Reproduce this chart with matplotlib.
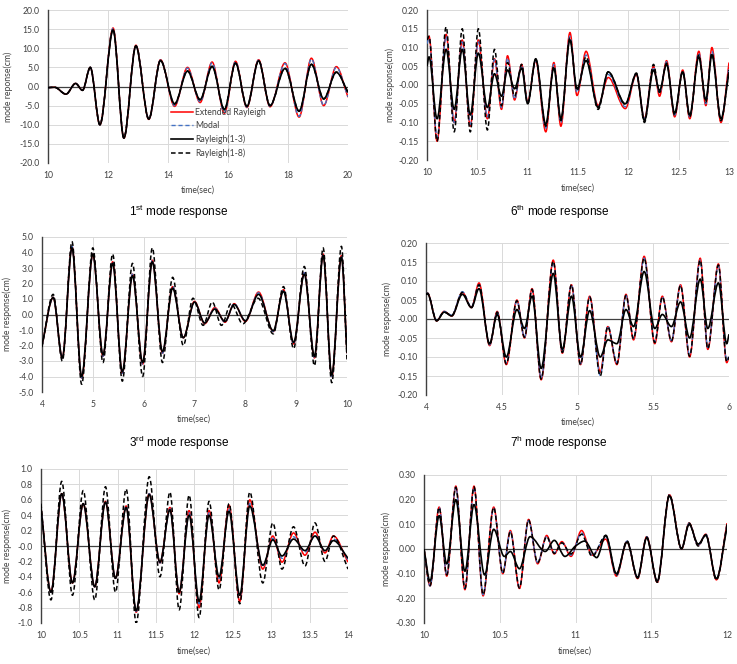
import numpy as np
import matplotlib
matplotlib.use("Agg")
import matplotlib.pyplot as plt
from matplotlib.path import Path
from matplotlib.patches import PathPatch
from matplotlib.lines import Line2D
from matplotlib.ticker import FormatStrFormatter, FuncFormatter

plt.rcParams['font.family'] = ['Lato', 'DejaVu Sans']
plt.rcParams['mathtext.fontset'] = 'custom'
plt.rcParams['mathtext.rm'] = 'Liberation Sans'

# ---------------- data (extrema) ----------------
series_names = ["Extended Rayleigh", "Modal", "Rayleigh(1-3)", "Rayleigh(1-8)"]

# 1st mode response
p1_t = [10.0, 10.22, 10.6, 10.92, 11.15, 11.41, 11.73, 12.17, 12.53, 12.93, 13.36, 13.75, 14.22, 14.65,
        15.07, 15.47, 15.88, 16.25, 16.63, 17.02, 17.4, 17.9, 18.37, 18.78, 19.19, 19.61, 20.0]
p1_ext = [-0.3, -0.2, -2.0, 0.8, -1.0, 5.0, -10.0, 15.3, -13.5, 10.8, -8.6, 7.0, -5.2, 5.0,
          -4.2, 6.4, -7.0, 6.6, -5.5, 7.0, -5.3, 6.2, -8.0, 7.4, -5.0, 5.2, -2.8]
p1_modal = [-0.3, -0.2, -2.0, 0.8, -1.0, 5.0, -10.0, 15.2, -13.4, 10.7, -8.5, 6.9, -5.0, 4.8,
            -4.0, 6.2, -6.8, 6.5, -5.4, 6.9, -5.2, 6.0, -7.8, 7.2, -4.9, 5.0, -2.7]
p1_r13 = [-0.3, -0.2, -2.0, 0.8, -1.0, 5.0, -10.0, 14.8, -13.5, 10.6, -8.5, 6.8, -4.5, 4.0,
          -3.4, 5.2, -6.0, 6.1, -5.2, 6.7, -5.0, 4.7, -6.4, 5.8, -3.2, 3.7, -1.5]
p1_r18 = [-0.3, -0.2, -2.0, 0.8, -1.0, 5.0, -10.0, 14.9, -13.4, 10.6, -8.5, 6.8, -4.6, 4.1,
          -3.5, 5.3, -6.0, 6.1, -5.2, 6.7, -5.0, 4.8, -6.5, 5.8, -3.3, 3.8, -1.6]

# 6th mode response
p2_t = [10.0, 10.02, 10.1, 10.19, 10.27, 10.35, 10.43, 10.51, 10.6, 10.67, 10.74, 10.8, 10.87, 10.94,
        11.0, 11.08, 11.18, 11.26, 11.33, 11.42, 11.49, 11.58, 11.7, 11.8, 11.97, 12.08, 12.16, 12.25,
        12.31, 12.38, 12.46, 12.54, 12.61, 12.7, 12.77, 12.83, 12.92, 13.0]
p2_ext = [0.11, 0.13, -0.15, 0.135, -0.10, 0.12, -0.11, 0.12, -0.09, 0.07, -0.065, 0.078, -0.04, 0.055,
          -0.045, 0.065, -0.125, 0.06, -0.11, 0.14, -0.028, 0.09, -0.055, 0.02, -0.063, 0.028, -0.09, 0.05,
          -0.03, 0.065, -0.085, 0.04, -0.09, 0.09, -0.055, 0.10, -0.10, 0.06]
p2_modal = [0.11, 0.125, -0.14, 0.13, -0.10, 0.115, -0.105, 0.115, -0.085, 0.068, -0.06, 0.072, -0.038, 0.052,
            -0.045, 0.065, -0.115, 0.055, -0.10, 0.13, -0.02, 0.08, -0.058, 0.028, -0.058, 0.03, -0.09, 0.048,
            -0.022, 0.062, -0.08, 0.038, -0.085, 0.085, -0.05, 0.09, -0.095, 0.05]
p2_r13 = [0.05, 0.075, -0.09, 0.095, -0.065, 0.095, -0.08, 0.085, -0.06, 0.03, -0.03, 0.04, -0.01, 0.045,
          -0.05, 0.07, -0.105, 0.045, -0.09, 0.12, -0.01, 0.065, -0.06, 0.035, -0.05, 0.03, -0.095, 0.04,
          -0.015, 0.055, -0.075, 0.035, -0.08, 0.075, -0.04, 0.08, -0.09, 0.035]
p2_r18 = [0.12, 0.13, -0.15, 0.155, -0.125, 0.15, -0.125, 0.15, -0.12, 0.095, -0.055, 0.06, -0.03, 0.055,
          -0.05, 0.068, -0.11, 0.05, -0.095, 0.125, -0.015, 0.075, -0.065, 0.035, -0.052, 0.032, -0.10, 0.055,
          -0.02, 0.058, -0.08, 0.035, -0.085, 0.08, -0.045, 0.085, -0.095, 0.04]

# 3rd mode response
p3_t = [4.0, 4.22, 4.4, 4.59, 4.78, 5.0, 5.2, 5.39, 5.58, 5.78, 5.98, 6.17, 6.37, 6.57, 6.78, 7.0,
        7.2, 7.4, 7.6, 7.78, 8.0, 8.26, 8.55, 8.75, 8.95, 9.16, 9.36, 9.53, 9.7, 9.89, 10.0]
p3_ext = [-2.0, 1.1, -2.8, 4.4, -4.1, 3.9, -2.7, 3.4, -3.8, 2.6, -3.2, 3.5, -2.5, 1.8, -1.5, 0.85,
          -0.6, 0.45, -0.5, 0.7, -0.45, 1.45, -1.1, 1.6, -1.9, 2.7, -2.8, 3.9, -4.0, 3.8, -2.5]
p3_modal = [-2.0, 1.1, -2.8, 4.4, -4.1, 3.9, -2.7, 3.4, -3.8, 2.6, -3.2, 3.5, -2.5, 1.8, -1.5, 0.8,
            -0.55, 0.4, -0.5, 0.7, -0.4, 1.4, -1.1, 1.6, -1.9, 2.7, -2.8, 3.9, -4.0, 3.8, -2.5]
p3_r13 = [-2.0, 1.1, -2.8, 4.3, -4.0, 3.9, -2.6, 3.3, -3.7, 2.5, -3.1, 3.4, -2.4, 1.7, -1.5, 0.8,
          -0.55, 0.35, -0.45, 0.65, -0.4, 1.3, -1.05, 1.5, -1.8, 2.6, -2.7, 3.8, -3.9, 3.7, -2.5]
p3_t18 = [4.0, 4.22, 4.4, 4.59, 4.78, 5.0, 5.2, 5.39, 5.58, 5.78, 5.98, 6.17, 6.37, 6.57, 6.78, 6.97,
          7.17, 7.35, 7.53, 7.72, 7.95, 8.25, 8.55, 8.75, 8.95, 9.16, 9.36, 9.53, 9.7, 9.89, 10.0]
p3_r18 = [-2.1, 1.3, -3.0, 4.7, -4.5, 4.3, -3.1, 3.9, -4.3, 3.3, -4.0, 4.3, -3.1, 2.4, -2.0, 1.05,
          -0.7, 0.8, -0.7, 0.7, -0.6, 1.05, -1.25, 1.8, -2.2, 3.1, -3.3, 4.3, -4.4, 4.4, -3.0]

# 7th mode response
p4_t = [4.0, 4.01, 4.07, 4.12, 4.17, 4.24, 4.3, 4.35, 4.42, 4.47, 4.53, 4.6, 4.65, 4.7, 4.76, 4.84,
        4.9, 4.96, 5.02, 5.08, 5.15, 5.2, 5.26, 5.32, 5.37, 5.44, 5.51, 5.56, 5.62, 5.68, 5.74, 5.81,
        5.86, 5.93, 5.985, 6.0]
p4_ext = [0.065, 0.068, -0.005, 0.02, 0.008, 0.07, 0.03, 0.095, -0.07, 0.02, -0.12, 0.05, -0.05, 0.08,
          -0.16, 0.155, -0.09, 0.09, -0.12, 0.06, -0.14, -0.02, -0.12, 0.065, -0.055, 0.165, -0.065, 0.06,
          -0.06, 0.09, -0.10, 0.16, -0.08, 0.145, -0.115, -0.10]
p4_modal = [0.065, 0.068, -0.003, 0.02, 0.01, 0.072, 0.032, 0.09, -0.068, 0.018, -0.115, 0.048, -0.048, 0.078,
            -0.155, 0.15, -0.088, 0.09, -0.118, 0.058, -0.148, -0.018, -0.115, 0.062, -0.05, 0.16, -0.06, 0.058,
            -0.057, 0.088, -0.095, 0.155, -0.075, 0.14, -0.11, -0.095]
p4_r13 = [0.065, 0.066, -0.005, 0.018, 0.008, 0.065, 0.03, 0.08, -0.065, 0.012, -0.10, 0.025, -0.025, 0.06,
          -0.13, 0.12, -0.08, 0.06, -0.10, 0.022, -0.10, -0.055, -0.065, 0.025, -0.02, 0.125, -0.025, 0.012,
          -0.02, 0.045, -0.05, 0.105, -0.025, 0.095, -0.065, -0.04]
p4_r18 = [0.065, 0.068, -0.004, 0.018, 0.01, 0.07, 0.03, 0.09, -0.068, 0.018, -0.118, 0.048, -0.048, 0.078,
          -0.158, 0.152, -0.088, 0.09, -0.12, 0.058, -0.15, -0.02, -0.118, 0.062, -0.052, 0.16, -0.062, 0.058,
          -0.058, 0.088, -0.098, 0.155, -0.078, 0.142, -0.112, -0.10]

# bottom-left panel
p5_t = [10.0, 10.13, 10.27, 10.41, 10.55, 10.7, 10.84, 10.97, 11.11, 11.24, 11.41, 11.55, 11.68, 11.8,
        11.93, 12.06, 12.19, 12.32, 12.45, 12.59, 12.72, 12.89, 13.02, 13.14, 13.29, 13.44, 13.57, 13.7,
        13.81, 14.0]
p5_ext = [0.5, -0.6, 0.68, -0.48, 0.55, -0.53, 0.58, -0.42, 0.52, -0.86, 0.68, -0.22, 0.5, -0.62,
          0.46, -0.8, 0.46, -0.48, 0.53, -0.72, 0.6, -0.3, 0.13, -0.21, 0.17, -0.12, 0.18, -0.09,
          0.13, -0.21]
p5_modal = [0.5, -0.6, 0.68, -0.48, 0.55, -0.53, 0.58, -0.42, 0.52, -0.85, 0.68, -0.22, 0.48, -0.6,
            0.43, -0.75, 0.43, -0.42, 0.47, -0.66, 0.55, -0.27, 0.1, -0.16, 0.12, -0.08, 0.14, -0.07,
            0.09, -0.18]
p5_r13 = [0.5, -0.6, 0.68, -0.48, 0.55, -0.53, 0.57, -0.42, 0.5, -0.84, 0.67, -0.21, 0.47, -0.6,
          0.4, -0.72, 0.4, -0.4, 0.45, -0.64, 0.52, -0.25, 0.08, -0.13, 0.09, -0.06, 0.13, -0.06,
          0.07, -0.16]
p5_r18 = [0.55, -0.7, 0.84, -0.64, 0.72, -0.7, 0.77, -0.6, 0.74, -1.0, 0.9, -0.4, 0.7, -0.83,
          0.66, -0.93, 0.58, -0.57, 0.55, -0.75, 0.7, -0.48, 0.3, -0.3, 0.25, -0.26, 0.3, -0.2,
          0.13, -0.3]

# bottom-right panel
p6_t = [10.0, 10.04, 10.1, 10.15, 10.21, 10.27, 10.33, 10.39, 10.46, 10.52, 10.57, 10.63, 10.69, 10.75,
        10.81, 10.86, 10.91, 10.97, 11.04, 11.11, 11.2, 11.27, 11.34, 11.41, 11.47, 11.54, 11.62, 11.7,
        11.75, 11.81, 11.86, 11.93, 12.0]
p6_ext = [0.0, -0.15, 0.17, -0.11, 0.255, -0.165, 0.255, -0.19, 0.17, -0.1, 0.075, -0.16, 0.12, -0.06,
          0.055, -0.02, 0.03, -0.03, 0.075, -0.025, 0.04, -0.11, 0.03, -0.12, 0.05, -0.135, 0.22, 0.0,
          0.105, 0.015, 0.06, -0.125, 0.105]
p6_modal = [0.0, -0.15, 0.17, -0.105, 0.25, -0.16, 0.25, -0.185, 0.165, -0.095, 0.07, -0.155, 0.115, -0.055,
            0.05, -0.015, 0.025, -0.025, 0.065, -0.025, 0.05, -0.108, 0.032, -0.118, 0.05, -0.133, 0.218, 0.0,
            0.104, 0.015, 0.06, -0.122, 0.1]
p6_r18 = [0.0, -0.148, 0.168, -0.105, 0.25, -0.16, 0.252, -0.185, 0.168, -0.098, 0.07, -0.158, 0.118, -0.055,
          0.05, -0.018, 0.025, -0.02, 0.06, -0.03, 0.055, -0.105, 0.033, -0.118, 0.048, -0.135, 0.22, 0.0,
          0.105, 0.012, 0.058, -0.125, 0.1]
p6_t13 = [10.0, 10.04, 10.1, 10.15, 10.21, 10.27, 10.33, 10.4, 10.46, 10.53, 10.57, 10.63, 10.7, 10.8,
          10.86, 10.93, 11.0, 11.06, 11.14, 11.2, 11.27, 11.34, 11.41, 11.47, 11.54, 11.62, 11.7, 11.75,
          11.81, 11.86, 11.93, 12.0]
p6_r13 = [0.0, -0.13, 0.135, -0.06, 0.2, -0.09, 0.18, -0.105, 0.08, -0.03, -0.01, -0.08, 0.05, -0.01,
          0.035, -0.03, 0.012, 0.032, -0.035, 0.055, -0.1, 0.028, -0.115, 0.045, -0.13, 0.215, 0.002, 0.1,
          0.02, 0.055, -0.12, 0.09]

titles = [r"1$^{\mathregular{st}}$ mode response", r"6$^{\mathregular{th}}$ mode response",
          r"3$^{\mathregular{rd}}$ mode response", r"7$^{\mathregular{h}}$ mode response"]
ylabels = ["mode reponse(cm)", "mode response(cm)", "mode response(cm)",
           "mode response(cm)", "mode response(cm)", "mode response(cm)"]

# ---------------- styling ----------------
W, H = 737, 664
fig = plt.figure(figsize=(W / 100, H / 100), dpi=100)
fig.patch.set_facecolor("white")

FS = 6.2
TXT = "#404040"
STY = [dict(edgecolor="#FF0000", lw=1.1, linestyle="-"),
       dict(edgecolor="#4472C4", lw=1.0, linestyle=(0, (3, 2))),
       dict(edgecolor="#000000", lw=1.2, linestyle="-"),
       dict(edgecolor="#000000", lw=1.1, linestyle=(0, (3, 1.8)))]


def smooth(ax, t, v, z, **kw):
    t = np.asarray(t, float)
    v = np.asarray(v, float)
    n = len(t)
    d = np.diff(v) / np.diff(t)
    m = np.zeros(n)
    for i in range(1, n - 1):
        if d[i - 1] * d[i] > 0:
            m[i] = 2.0 / (1.0 / d[i - 1] + 1.0 / d[i])
    m[0] = d[0]
    m[-1] = d[-1]
    verts = [(t[0], v[0])]
    codes = [Path.MOVETO]
    for i in range(n - 1):
        h = t[i + 1] - t[i]
        verts += [(t[i] + h / 3, v[i] + m[i] * h / 3),
                  (t[i + 1] - h / 3, v[i + 1] - m[i + 1] * h / 3),
                  (t[i + 1], v[i + 1])]
        codes += [Path.CURVE4] * 3
    ax.add_patch(PathPatch(Path(verts, codes), fill=False, zorder=z, capstyle="butt",
                           joinstyle="round", **kw))


def px_axes(l, r, t, b):
    return fig.add_axes([l / W, 1 - b / H, (r - l) / W, (b - t) / H])


def gfmt(x, pos):
    return ("%g" % round(x, 3))


def setup(ax, xlim, xstep, ylim, ystep, yfmt):
    ax.set_xlim(*xlim)
    ax.set_ylim(*ylim)
    ax.set_xticks(np.arange(xlim[0], xlim[1] + 1e-9, xstep))
    ax.set_yticks(np.arange(ylim[0], ylim[1] + ystep * 0.01, ystep))
    ax.yaxis.set_major_formatter(FormatStrFormatter(yfmt))
    ax.xaxis.set_major_formatter(FuncFormatter(gfmt))
    ax.grid(True, color="#D9D9D9", lw=0.7)
    ax.set_axisbelow(True)
    for s in ["top", "right", "bottom"]:
        ax.spines[s].set_visible(False)
    ax.spines["left"].set_color(TXT)
    ax.spines["left"].set_linewidth(1.0)
    ax.axhline(0, color=TXT, lw=0.9, zorder=1.5)
    ax.tick_params(length=0, labelsize=FS, colors=TXT, pad=6)


panels = [
    dict(box=(48, 348, 10, 163), xlim=(10, 20), xs=2, ylim=(-20, 20), ys=5, yf="%.1f",
         t=[p1_t, p1_t, p1_t, p1_t], v=[p1_ext, p1_modal, p1_r13, p1_r18],
         xl=(198, 190), yl=(8, 87)),
    dict(box=(427, 729, 10, 160), xlim=(10, 13), xs=0.5, ylim=(-0.2, 0.2), ys=0.05, yf="%.2f",
         t=[p2_t, p2_t, p2_t, p2_t], v=[p2_ext, p2_modal, p2_r13, p2_r18],
         xl=(578, 188), yl=(390, 85)),
    dict(box=(42, 347, 237, 392), xlim=(4, 10), xs=1, ylim=(-5, 5), ys=1, yf="%.1f",
         t=[p3_t, p3_t, p3_t, p3_t18], v=[p3_ext, p3_modal, p3_r13, p3_r18],
         xl=(194, 419), yl=(7, 314)),
    dict(box=(426, 729, 243, 395), xlim=(4, 6), xs=0.5, ylim=(-0.2, 0.2), ys=0.05, yf="%.2f",
         t=[p4_t, p4_t, p4_t, p4_t], v=[p4_ext, p4_modal, p4_r13, p4_r18],
         xl=(578, 422), yl=(387, 319)),
    dict(box=(41, 348, 469, 623), xlim=(10, 14), xs=0.5, ylim=(-1.0, 1.0), ys=0.2, yf="%.1f",
         t=[p5_t, p5_t, p5_t, p5_t], v=[p5_ext, p5_modal, p5_r13, p5_r18],
         xl=(194, 651), yl=(7, 546)),
    dict(box=(424, 727, 475, 623), xlim=(10, 12), xs=0.5, ylim=(-0.3, 0.3), ys=0.1, yf="%.2f",
         t=[p6_t, p6_t, p6_t13, p6_t], v=[p6_ext, p6_modal, p6_r13, p6_r18],
         xl=(575, 651), yl=(386, 549)),
]

axes = []
for k, p in enumerate(panels):
    ax = px_axes(*p["box"])
    setup(ax, p["xlim"], p["xs"], p["ylim"], p["ys"], p["yf"])
    for j in range(4):
        smooth(ax, p["t"][j], p["v"][j], 2 + j, **STY[j])
    fig.text(p["xl"][0] / W, 1 - p["xl"][1] / H, "time(sec)", ha="center", va="center",
             fontsize=FS, color=TXT)
    fig.text(p["yl"][0] / W, 1 - p["yl"][1] / H, ylabels[k], ha="center", va="center",
             rotation=90, fontsize=FS, color=TXT)
    axes.append(ax)

# titles under the upper panels
title_pos = [(179, 212), (560, 212), (179, 443), (559, 443)]
for txt, (x, y) in zip(titles, title_pos):
    fig.text(x / W, 1 - y / H, txt, ha="center", va="center", fontsize=8.5,
             family="Liberation Sans", color="#000000")

# legend in the first panel
handles = []
for j in range(4):
    s = STY[j]
    handles.append(Line2D([], [], color=s["edgecolor"], lw=s["lw"], linestyle=s["linestyle"]))
leg = axes[0].legend(handles, series_names, loc="upper left",
                     bbox_to_anchor=(171 / W, 1 - 108 / H), bbox_transform=fig.transFigure,
                     frameon=False, fontsize=FS, handlelength=2.5, handletextpad=0.3,
                     labelspacing=0.5, borderpad=0, borderaxespad=0)
for t in leg.get_texts():
    t.set_color(TXT)

fig.savefig("out.png", dpi=100, facecolor="white")
